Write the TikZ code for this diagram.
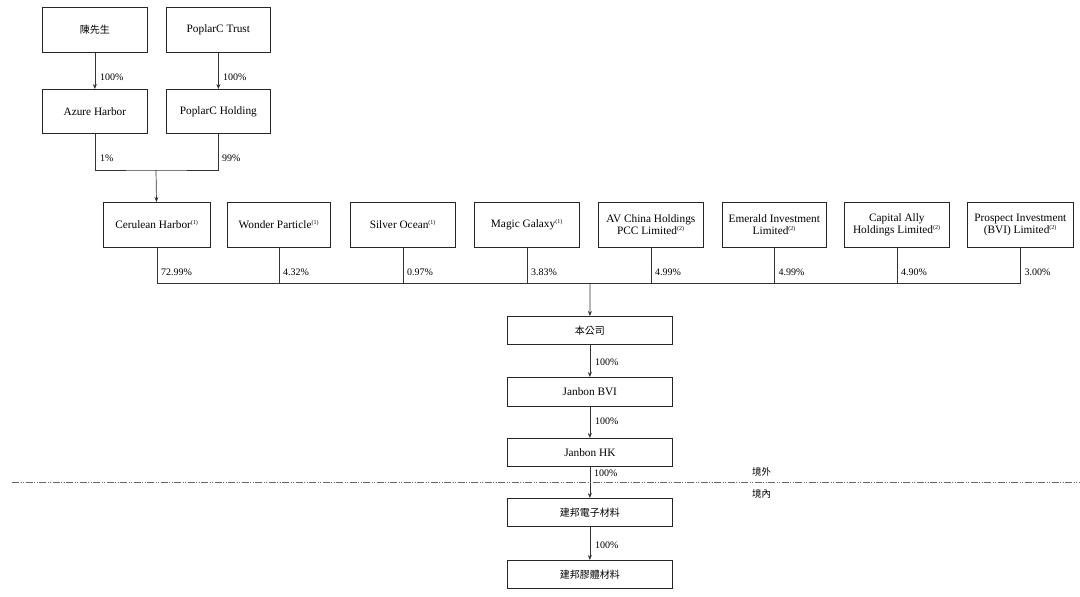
\documentclass[tikz,border=0pt]{standalone}
\usepackage{fontspec}
\setmainfont{Liberation Serif}
\newfontfamily\cjk{Noto Sans CJK TC}
\usetikzlibrary{arrows.meta}
\begin{document}
\begin{tikzpicture}[x=1pt,y=-1pt,
  box/.style={draw=black!85,line width=0.7pt,inner sep=0pt,anchor=north west,align=center,font=\fontsize{11.3}{12.5}\selectfont},
  conn/.style={draw=black!80,line width=0.7pt},
  arr/.style={conn,-{Stealth[length=5pt,width=4pt]}},
  pct/.style={font=\fontsize{10}{11}\selectfont,anchor=west,inner sep=0pt}]
\useasboundingbox (0,0) rectangle (1080,597);
\newcommand{\bx}[6]{\node[box,minimum width=#4-#2,minimum height=#5-#3] (#1) at (#2,#3) {#6};}
\newcommand{\nt}[1]{\textsuperscript{\fontsize{6}{6}\selectfont(#1)}}
\bx{chen}{42}{7}{147}{52}{\fontsize{10}{11}\selectfont\cjk 陳先生}
\bx{ptrust}{166}{7}{270}{52}{PoplarC Trust}
\bx{azure}{42}{89}{147}{133}{Azure Harbor}
\bx{phold}{166}{89}{270}{133}{PoplarC Holding}
\bx{cer}{103}{202}{210}{247}{Cerulean Harbor\nt{1}}
\bx{won}{227}{202}{330}{247}{Wonder Particle\nt{1}}
\bx{sil}{350}{202}{455}{247}{Silver Ocean\nt{1}}
\bx{mag}{474}{202}{579}{247}{Magic Galaxy\nt{1}}
\bx{av}{598}{202}{703}{247}{AV China Holdings\\PCC Limited\nt{2}}
\bx{eme}{722}{202}{826}{247}{Emerald Investment\\Limited\nt{2}}
\bx{cap}{844}{202}{949}{247}{Capital Ally\\Holdings Limited\nt{2}}
\bx{pro}{967}{202}{1073}{247}{Prospect Investment\\(BVI) Limited\nt{2}}
\bx{co}{507}{316}{672}{344}{\fontsize{10}{11}\selectfont\cjk 本公司}
\bx{bvi}{507}{377}{672}{406}{Janbon BVI}
\bx{hk}{507}{438}{672}{466}{Janbon HK}
\bx{dz}{507}{498}{672}{526}{\fontsize{10}{11}\selectfont\cjk 建邦電子材料}
\bx{jt}{507}{560}{672}{588}{\fontsize{10}{11}\selectfont\cjk 建邦膠體材料}
% top arrows
\draw[arr] (chen) -- (azure);
\draw[arr] (ptrust) -- (phold);
\node[pct] at (100,77) {100\%};
\node[pct] at (223,77) {100\%};
\coordinate (j1) at (156,170);
\draw[conn] (azure.south) |- (j1) -| (phold.south);
\node[pct] at (100,158) {1\%};
\node[pct] at (222,158) {99\%};
\draw[arr] (j1) -- (cer);
% row to company
\coordinate (j2) at (590,283);
\draw[conn] (cer.south) |- (j2);
\draw[conn] (pro.south) |- (j2);
\foreach \n in {won,sil,mag,av,eme,cap}{\draw[conn] (\n.south) -- (\n.south |- j2);}
\foreach \n/\v in {cer/72.99,won/4.32,sil/0.97,mag/3.83,av/4.99,eme/4.99,cap/4.90,pro/3.00}{
  \node[pct] at ([xshift=4pt]\n.south |- 0,272) {\v\%};}
\draw[arr] (j2) -- (co);
\draw[arr] (co) -- (bvi);
\node[pct] at (595,362) {100\%};
\draw[arr] (bvi) -- (hk);
\node[pct] at (595,421) {100\%};
\draw[arr] (hk) -- (dz);
\node[pct] at (594,473) {100\%};
\draw[arr] (dz) -- (jt);
\node[pct] at (595,545) {100\%};
% border line
\coordinate (bl) at (12,482);
\coordinate (br) at (1080,482);
\draw[draw=black!60,line width=0.7pt,dash pattern=on 7pt off 1.5pt on 1pt off 1.5pt on 1pt off 1.5pt] (bl) -- (br);
\node[font=\cjk\fontsize{9.5}{10}\selectfont,anchor=west,inner sep=0pt] at (752,472) {境外};
\node[font=\cjk\fontsize{9.5}{10}\selectfont,anchor=west,inner sep=0pt] at (752,494) {境內};
\end{tikzpicture}
\end{document}
